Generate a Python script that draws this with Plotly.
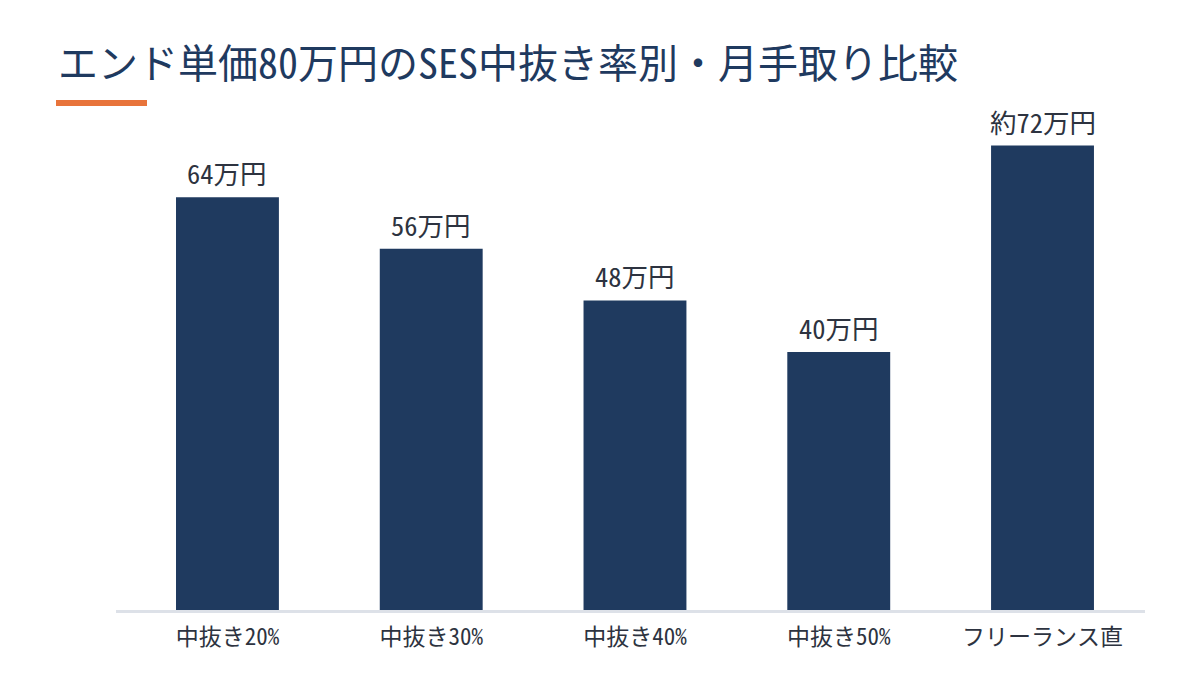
import plotly.graph_objects as go

categories = ["中抜き20%", "中抜き30%", "中抜き40%", "中抜き50%", "フリーランス直"]
values = [64, 56, 48, 40, 72]
value_labels = ["64万円", "56万円", "48万円", "40万円", "約72万円"]
title_text = "エンド単価80万円のSES中抜き率別・月手取り比較"

FONT = "Noto Sans Mono CJK JP, Noto Sans CJK JP, DejaVu Sans Mono, monospace"
NAVY = "#1f3a5f"
TEXT = "#2d3340"

fig = go.Figure(
    go.Bar(
        x=categories,
        y=values,
        width=0.505,
        marker=dict(color=NAVY, line=dict(width=0)),
        hoverinfo="skip",
    )
)

annotations = [
    dict(
        x=c,
        y=v,
        xref="x",
        yref="y",
        text=t,
        showarrow=False,
        xanchor="center",
        yanchor="bottom",
        yshift=3,
        font=dict(family=FONT, size=26.5, color=TEXT),
    )
    for c, v, t in zip(categories, values, value_labels)
]

annotations.append(
    dict(
        text=title_text,
        xref="paper",
        yref="paper",
        x=(56 - 116) / 1029,
        y=(610 - 61) / 516,
        xanchor="left",
        yanchor="middle",
        showarrow=False,
        font=dict(family=FONT, size=40, color=NAVY),
    )
)

fig.update_layout(
    width=1200,
    height=700,
    margin=dict(l=116, r=55, t=94, b=90),
    paper_bgcolor="white",
    plot_bgcolor="white",
    showlegend=False,
    font=dict(family=FONT, color=TEXT),
    xaxis=dict(
        type="category",
        range=[-0.547, 4.503],
        showgrid=False,
        showline=True,
        linecolor="#dde1e8",
        linewidth=3,
        ticks="",
        ticklabelstandoff=4,
        tickfont=dict(family=FONT, size=23, color=TEXT),
        fixedrange=True,
    ),
    yaxis=dict(
        range=[0, 80],
        visible=False,
        showgrid=False,
        zeroline=False,
        fixedrange=True,
    ),
    annotations=annotations,
    shapes=[
        dict(
            type="rect",
            xref="paper",
            yref="paper",
            x0=(56 - 116) / 1029,
            x1=(147 - 116) / 1029,
            y0=(610 - 106) / 516,
            y1=(610 - 100) / 516,
            fillcolor="#e8743b",
            line=dict(width=0),
            layer="above",
        )
    ],
)

fig.write_html("out.html")
